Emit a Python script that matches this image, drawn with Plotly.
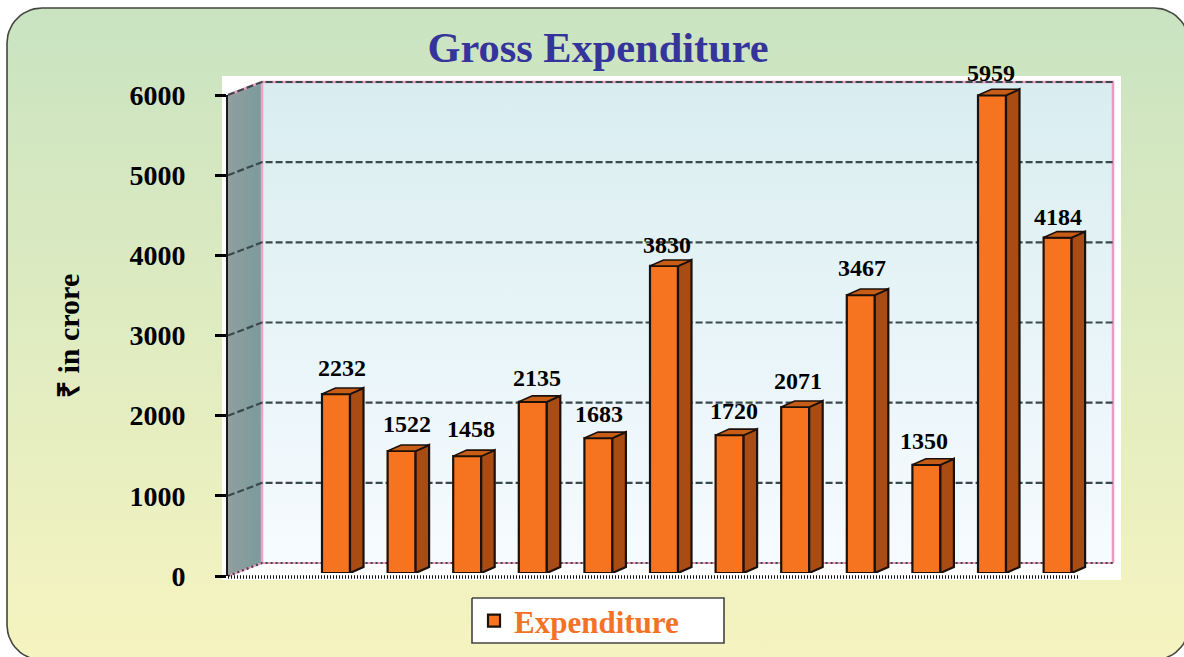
import math
import plotly.graph_objects as go

# ---- data ----
positions = list(range(12))
expenditure = [2232, 1522, 1458, 2135, 1683, 3830, 1720, 2071, 3467, 1350, 5959, 4184]
y_ticks = [0, 1000, 2000, 3000, 4000, 5000, 6000]
title_text = "Gross Expenditure"
y_title = "₹ in crore"
series_name = "Expenditure"
# small per-label nudges (px) of the value labels
label_dx = [3, 2, 1, 1, -2, 0, 1, 0, -2, -5, -4, -3]
label_dy = [2, 3, 3, 0, 0, -3, 0, 2, 3, 0, -2, -3]

# ---- geometry (pixels in the 1184x657 page) ----
W, H = 1184, 657
FONT = "Liberation Serif"
SCALE = (576 - 95) / 6000          # px per unit
X0, STEP = 336.0, 65.6             # centre of first bar, spacing
BAR_W, DEPTH_X, DEPTH_Y = 28.0, 13.5, 6.0
BAR_BASE_PX = 573.0
PLOT_L, PLOT_R = 228.0, 1113.0


def frac_y(px):
    return (H - px) / H


def rounded(x0, y0, x1, y1, r, n=14):
    xs, ys = [], []
    for cx, cy, a0 in [(x1 - r, y0 + r, -90), (x1 - r, y1 - r, 0), (x0 + r, y1 - r, 90), (x0 + r, y0 + r, 180)]:
        for k in range(n + 1):
            a = math.radians(a0 + 90 * k / n)
            xs.append(cx + r * math.cos(a))
            ys.append(cy + r * math.sin(a))
    xs.append(xs[0])
    ys.append(ys[0])
    return xs, ys


fig = go.Figure()


def poly(xs, ys, color=None, grad=None, line=None, width=0, dash=None, axes=("x", "y")):
    kw = dict(x=xs, y=ys, xaxis=axes[0], yaxis=axes[1], showlegend=False, hoverinfo="skip")
    kw["line"] = dict(color=line or "rgba(0,0,0,0)", width=width, dash=dash or "solid")
    kw["mode"] = "lines"
    if grad is not None:
        kw["fill"] = "toself"
        kw["fillgradient"] = grad
    elif color is not None:
        kw["fill"] = "toself"
        kw["fillcolor"] = color
    fig.add_trace(go.Scatter(**kw))


def vgrad(top, bottom):
    # the pixel y axis is reversed, so the scale runs from the picture's bottom to its top
    return dict(type="vertical", colorscale=[[0, bottom], [1, top]])


# page panel
px_, py_ = rounded(7, 8, 1189, 660, 35)
poly(px_, py_, grad=vgrad("#c9e3c1", "#f6f4c0"), line="#45453f", width=1.6)
# white plate behind the plot
poly([222, 1121, 1121, 222, 222], [76, 76, 580, 580, 76], color="#ffffff")
# back wall
poly([262, 1113, 1113, 262, 262], [82, 82, 563, 563, 82], grad=vgrad("#d9edf0", "#f6fbff"))
# left wall
poly([228, 262, 262, 228, 228], [95, 82, 563, 576, 95],
     grad=dict(type="horizontal", colorscale=[[0, "#919e9f"], [1, "#7a9b9c"]]))
# pink frame
poly([228, 262, 1113, 1113], [95, 82, 82, 563], line="#eb9ac0", width=2.5)
poly([262, 262], [82, 563], line="#e9a4c6", width=2.5)
poly([228, 262, 1113], [576, 563, 563], line="#eb9ac0", width=2)
# gridlines on the walls, driven by the tick values
for v in y_ticks:
    back = 563 - v * SCALE
    front = 576 - v * SCALE
    dash = "2px,3px" if v == 0 else "7px,3px"
    poly([228, 262, 1113], [front, back, back], line="#3a4a4c", width=2.2, dash=dash)
# dotted floor front edge
poly([228, 1080], [577, 577], line="#111111", width=3.5, dash="1px,2px")
# legend box
poly([472, 724, 724, 472, 472], [598, 598, 643, 643, 598], color="#ffffff", line="#444444", width=1.6)

# bars, on their own y axis (3 px above the tick axis, same scale)
x2 = ("x2", "y3")
fig.add_trace(go.Bar(
    x=positions, y=expenditure, name=series_name, xaxis="x2", yaxis="y3",
    width=BAR_W / STEP, marker=dict(color="#f6741f", line=dict(color="#1c110a", width=2.2)),
    hoverinfo="x+y", showlegend=True, cliponaxis=False,
))
dxu = DEPTH_X / STEP
dyu = DEPTH_Y / SCALE
hw = BAR_W / STEP / 2
for xi, v in zip(positions, expenditure):
    # side face
    poly([xi + hw, xi + hw + dxu, xi + hw + dxu, xi + hw, xi + hw],
         [0, dyu, v + dyu, v, 0], color="#a84c13", line="#1c110a", width=2.2, axes=x2)
    # top face
    poly([xi - hw, xi + hw, xi + hw + dxu, xi - hw + dxu, xi - hw],
         [v, v, v + dyu, v + dyu, v], color="#c85d17", line="#1c110a", width=1.6, axes=x2)

annotations = [
    dict(x=xi, y=v, xref="x2", yref="y3", text=str(v), showarrow=False,
         yanchor="bottom", xshift=3 + ddx, yshift=9 + ddy,
         font=dict(family=FONT, size=24, color="#000000", weight="bold"))
    for xi, v, ddx, ddy in zip(positions, expenditure, label_dx, label_dy)
]
annotations.append(dict(
    x=68, y=336, xref="x", yref="y", text=y_title, textangle=-90, showarrow=False,
    font=dict(family=FONT, size=30, color="#000000", weight="bold"),
))

x_range = [(PLOT_L - X0) / STEP, (PLOT_R - X0) / STEP]
fig.update_layout(
    width=W, height=H, autosize=False,
    margin=dict(l=0, r=0, t=0, b=0, pad=0, autoexpand=False),
    paper_bgcolor="#ffffff", plot_bgcolor="rgba(0,0,0,0)",
    font=dict(family=FONT, color="#000000"),
    title=dict(text=f"<b>{title_text}</b>", x=598 / W, xanchor="center", y=1 - 47 / H, yanchor="middle",
               font=dict(family=FONT, size=42.4, color="#35349a")),
    xaxis=dict(domain=[0, 1], range=[0, W], visible=False, fixedrange=True),
    yaxis=dict(domain=[0, 1], range=[H, 0], visible=False, fixedrange=True),
    xaxis2=dict(domain=[PLOT_L / W, PLOT_R / W], range=x_range, visible=False, anchor="y2"),
    yaxis2=dict(domain=[frac_y(576), frac_y(95)], range=[0, 6000], anchor="x2", side="left",
                tickmode="array", tickvals=y_ticks, ticks="outside", ticklen=11, tickwidth=3,
                tickcolor="#000000", showline=True, linecolor="#1a1a1a", linewidth=2,
                showgrid=False, zeroline=False, ticklabelstandoff=24,
                tickfont=dict(family=FONT, size=28, color="#000000", weight="bold")),
    yaxis3=dict(domain=[frac_y(BAR_BASE_PX), frac_y(BAR_BASE_PX - 6500 * SCALE)], range=[0, 6500],
                anchor="x2", visible=False),
    legend=dict(x=474 / W, y=frac_y(594), xanchor="left", yanchor="top", bgcolor="rgba(0,0,0,0)",
                borderwidth=0, itemwidth=30,
                font=dict(family=FONT, size=31, color="#f47226", weight="bold"),
                itemclick=False, itemdoubleclick=False),
    annotations=annotations,
    bargap=0.5,
)
# yaxis2 needs a trace to draw
fig.add_trace(go.Scatter(x=positions, y=expenditure, xaxis="x2", yaxis="y2", mode="markers",
                         marker=dict(opacity=0, size=1), showlegend=False, hoverinfo="skip"))
fig.write_html("out.html", post_script="document.body.style.margin='0';window.scrollTo(0,0);",
               default_width="1184px", default_height="657px",
               config={"displayModeBar": False})
